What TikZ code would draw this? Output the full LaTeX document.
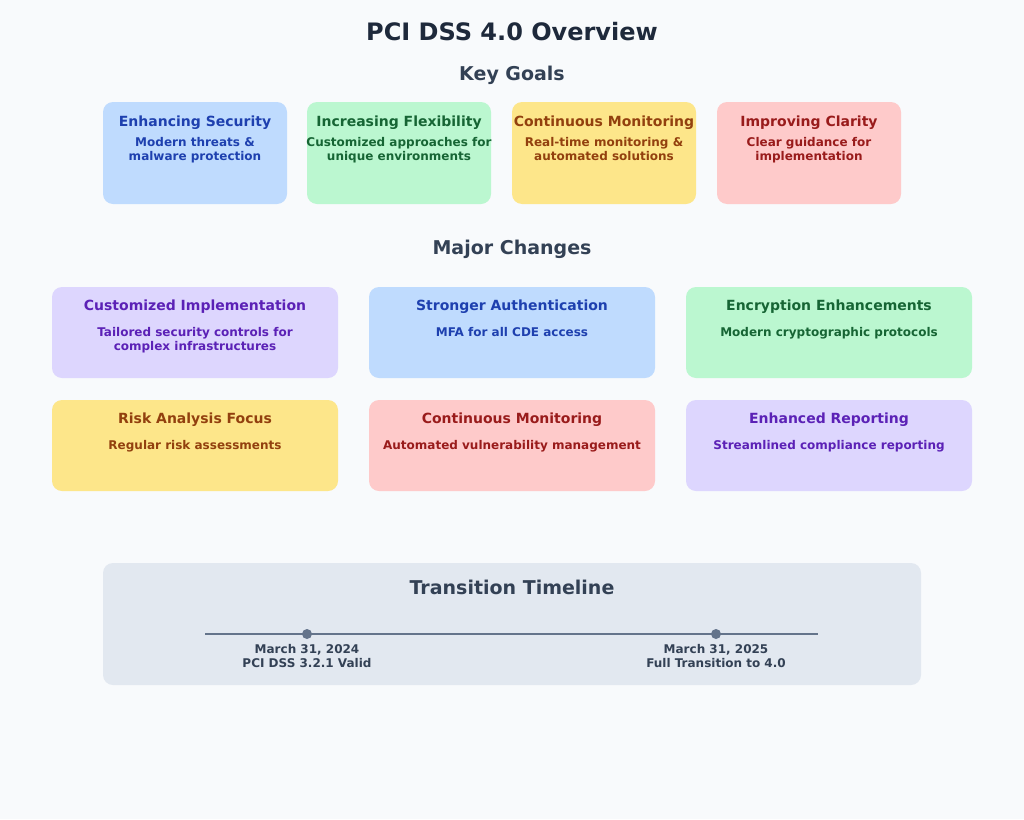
\documentclass[tikz,border=0pt]{standalone}
\usepackage{fontspec}
\setmainfont{DejaVu Sans}
\definecolor{bg}{HTML}{F8FAFC}
\definecolor{bF}{HTML}{BFDBFE}\definecolor{bT}{HTML}{1E40AF}
\definecolor{gF}{HTML}{BBF7D0}\definecolor{gT}{HTML}{166534}
\definecolor{yF}{HTML}{FDE68A}\definecolor{yT}{HTML}{92400E}
\definecolor{rF}{HTML}{FECACA}\definecolor{rT}{HTML}{991B1B}
\definecolor{pF}{HTML}{DDD6FE}\definecolor{pT}{HTML}{5B21B6}
\definecolor{tl}{HTML}{E2E8F0}\definecolor{hd}{HTML}{334155}
\definecolor{ln}{HTML}{64748B}\definecolor{tt}{HTML}{1E293B}
\begin{document}
\begin{tikzpicture}[x=1pt,y=-1pt,
 card/.style={rounded corners=10pt},
 ttl/.style={font=\bfseries\fontsize{14}{16}\selectfont,anchor=center,inner sep=0},
 sub/.style={font=\bfseries\fontsize{12}{14.5}\selectfont,align=center,anchor=north,inner sep=0},
 head/.style={font=\bfseries\fontsize{19}{22}\selectfont,text=hd,inner sep=0}]
\fill[bg] (0,0) rectangle (1024,819);
\useasboundingbox (0,0) rectangle (1024,819);
\node[font=\bfseries\fontsize{24}{28}\selectfont,text=tt,inner sep=0] (title) at (512,32) {PCI DSS 4.0 Overview};
\node[head] (kg) at (512,75) {Key Goals};
% key goals
\foreach \x/\f/\t/\a/\b/\n in {103/bF/bT/Enhancing Security/Modern threats \&\\malware protection/g1,
 307/gF/gT/Increasing Flexibility/Customized approaches for\\unique environments/g2,
 512/yF/yT/Continuous Monitoring/Real-time monitoring \&\\automated solutions/g3,
 717/rF/rT/Improving Clarity/Clear guidance for\\implementation/g4}{
 \fill[\f,card] (\x,102) rectangle ++(184,102);
 \node[ttl,text=\t] (\n t) at (\x+92,123) {\a};
 \node[sub,text=\t] (\n s) at (\x+92,137) {\b};
}
\node[head] (mc) at (512,249) {Major Changes};
\foreach \x/\y/\f/\t/\a/\b/\n in {52/287/pF/pT/Customized Implementation/Tailored security controls for\\complex infrastructures/c1,
 369/287/bF/bT/Stronger Authentication/MFA for all CDE access/c2,
 686/287/gF/gT/Encryption Enhancements/Modern cryptographic protocols/c3,
 52/400/yF/yT/Risk Analysis Focus/Regular risk assessments/c4,
 369/400/rF/rT/Continuous Monitoring/Automated vulnerability management/c5,
 686/400/pF/pT/Enhanced Reporting/Streamlined compliance reporting/c6}{
 \fill[\f,card] (\x,\y) rectangle ++(286,91);
 \node[ttl,text=\t] (\n t) at (\x+143,\y+20) {\a};
 \node[sub,text=\t] (\n s) at (\x+143,\y+40) {\b};
}
\fill[tl,card] (103,563) rectangle (921,685);
\node[head] (tlt) at (512,587) {Transition Timeline};
\coordinate (l0) at (205,634); \coordinate (l1) at (818,634);
\draw[ln,line width=2pt] (l0) -- (l1);
\fill[ln] (307,634) circle (5pt) node (d1) {};
\fill[ln] (716,634) circle (5pt) node (d2) {};
\node[sub,text=hd] (t1) at (307,644) {March 31, 2024\\PCI DSS 3.2.1 Valid};
\node[sub,text=hd] (t2) at (716,644) {March 31, 2025\\Full Transition to 4.0};
\end{tikzpicture}
\end{document}
